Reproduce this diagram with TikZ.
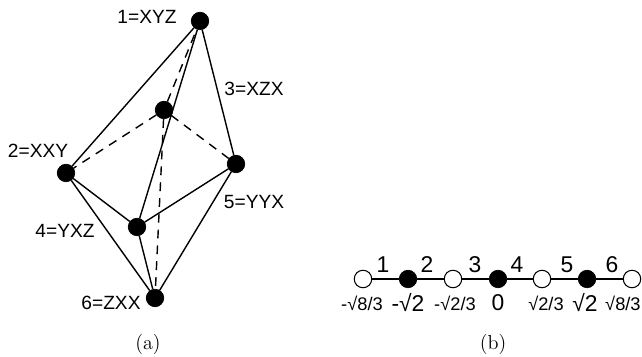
\documentclass[tikz,border=0pt]{standalone}
\usepackage{fontspec}
\setmainfont{Latin Modern Roman}
\newfontfamily\labelfont{Liberation Sans}
\tikzset{
	site/.style={circle,fill=black,draw=black,inner sep=0pt,minimum size=0.35cm},
	opensite/.style={circle,fill=white,draw=black,line width=0.6pt,inner sep=0pt,minimum size=0.35cm},
	bond/.style={line width=1.5pt},
	hidden/.style={thick,dash pattern=on 5pt off 4pt},
	tag/.style={inner sep=0pt,font=\labelfont\fontsize{10.9}{12}\selectfont},
	bondtag/.style={inner sep=0pt,font=\labelfont\fontsize{13}{15}\selectfont},
	valbig/.style={inner sep=0pt,font=\labelfont\fontsize{13}{15}\selectfont},
	valsmall/.style={inner sep=0pt,font=\labelfont\fontsize{10.4}{12}\selectfont},
	caption/.style={inner sep=0pt,font=\fontsize{11.5}{13}\selectfont}
}
\begin{document}
\begin{tikzpicture}[x=0.02cm,y=-0.02cm]
	\useasboundingbox (0,0) rectangle (642,357);

	% (a)
	\node[site] (A) at (200,21) {};
	\node[site] (B) at (66,173) {};
	\node[site] (C) at (164,110) {};
	\node[site] (D) at (137,227) {};
	\node[site] (E) at (236,164) {};
	\node[site] (F) at (155,298) {};

	\draw[thick] (A) -- (B);
	\draw[thick] (A) -- (D);
	\draw[thick] (A) -- (E);
	\draw[thick] (B) -- (D);
	\draw[thick] (B) -- (F);
	\draw[thick] (D) -- (E);
	\draw[thick] (D) -- (F);
	\draw[thick] (E) -- (F);
	\draw[hidden] (C) -- (A);
	\draw[hidden] (C) -- (B);
	\draw[hidden] (C) -- (E);
	\draw[hidden] (C) -- (F);

	\node[tag] (la) at (147,17) {1=XYZ};
	\node[tag] (lb) at (38,151) {2=XXY};
	\node[tag] (lc) at (254,89) {3=XZX};
	\node[tag] (ld) at (65,231) {4=YXZ};
	\node[tag] (le) at (254,202) {5=YYX};
	\node[tag] (lf) at (111,303) {6=ZXX};
	\node[caption] (capa) at (148,344) {(a)};

	% (b)
	\node[opensite] (P0) at (363,279) {};
	\node[site] (P1) at (408,279) {};
	\node[opensite] (P2) at (453,279) {};
	\node[site] (P3) at (498,279) {};
	\node[opensite] (P4) at (542,279) {};
	\node[site] (P5) at (587,279) {};
	\node[opensite] (P6) at (632,279) {};

	\draw[bond] (P0) -- (P1);
	\draw[bond] (P1) -- (P2);
	\draw[bond] (P2) -- (P3);
	\draw[bond] (P3) -- (P4);
	\draw[bond] (P4) -- (P5);
	\draw[bond] (P5) -- (P6);

	\node[bondtag] (n1) at (383,265) {1};
	\node[bondtag] (n2) at (427,265) {2};
	\node[bondtag] (n3) at (475,265) {3};
	\node[bondtag] (n4) at (517,265) {4};
	\node[bondtag] (n5) at (567,265) {5};
	\node[bondtag] (n6) at (612,265) {6};

	\node[valsmall] (v0) at (362,303) {-√8/3};
	\node[valbig] (v1) at (408,303) {-√2};
	\node[valsmall] (v2) at (455,303) {-√2/3};
	\node[valbig] (v3) at (498,303) {0};
	\node[valsmall] (v4) at (546,303) {√2/3};
	\node[valbig] (v5) at (585,303) {√2};
	\node[valsmall,anchor=east] (v6) at (641,303) {√8/3};
	\node[caption] (capb) at (493,344) {(b)};
\end{tikzpicture}
\end{document}
